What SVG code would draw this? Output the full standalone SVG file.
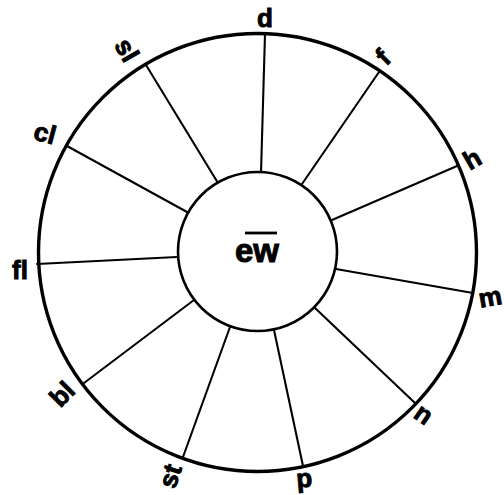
<svg xmlns="http://www.w3.org/2000/svg" width="504" height="495" viewBox="0 0 504 495">
<style>
.ring{fill:none;stroke:#000;stroke-width:3.4}
.hub{fill:#fff;stroke:#000;stroke-width:2.6}
.sp{stroke:#000;stroke-width:2.1;stroke-linecap:round}
.lb{font-family:"Liberation Sans",Arial,sans-serif;font-weight:bold;font-size:26px;fill:#000;stroke:#000;stroke-width:0.9;text-anchor:middle;dominant-baseline:central}
.ct{font-family:"Liberation Sans",Arial,sans-serif;font-weight:bold;font-size:33px;fill:#000;stroke:#000;stroke-width:1;text-anchor:middle}
</style>
<rect width="504" height="495" fill="#fff"/>
<g id="rim"><circle class="ring" cx="257.5" cy="252.5" r="219"/></g>
<g id="connectors">
<line class="sp" x1="265" y1="34" x2="261" y2="173"/>
<line class="sp" x1="379" y1="72" x2="302" y2="184"/>
<line class="sp" x1="457" y1="166" x2="332" y2="220"/>
<line class="sp" x1="473" y1="293" x2="336" y2="269"/>
<line class="sp" x1="415" y1="403" x2="315" y2="308"/>
<line class="sp" x1="303" y1="466" x2="274" y2="330"/>
<line class="sp" x1="183" y1="457" x2="230" y2="327"/>
<line class="sp" x1="84" y1="383" x2="194" y2="300"/>
<line class="sp" x1="37" y1="264" x2="177" y2="257"/>
<line class="sp" x1="67" y1="146" x2="187" y2="212"/>
<line class="sp" x1="146" y1="65" x2="218" y2="183"/>
</g>
<g id="hub">
<circle class="hub" cx="257.5" cy="251.5" r="79.5"/>
<line x1="245" y1="233" x2="277" y2="233" stroke="#000" stroke-width="2.8"/>
<text class="ct" x="257" y="262">ew</text>
</g>
<g id="d"><text class="lb" transform="translate(265,18)">d</text></g>
<g id="f"><text class="lb" transform="translate(383,57) rotate(-45)">f</text></g>
<g id="h"><text class="lb" transform="translate(472,159) rotate(-30)">h</text></g>
<g id="m"><text class="lb" transform="translate(490,297) rotate(-10)">m</text></g>
<g id="n"><text class="lb" transform="translate(424,414) rotate(35)">n</text></g>
<g id="p"><text class="lb" transform="translate(304,478) rotate(-5)">p</text></g>
<g id="st"><text class="lb" transform="translate(170,476) rotate(-72)">st</text></g>
<g id="bl"><text class="lb" transform="translate(62,394) rotate(-45)">bl</text></g>
<g id="fl"><text class="lb" transform="translate(20,270)">fl</text></g>
<g id="cl"><text class="lb" transform="translate(45,133) rotate(15)">cl</text></g>
<g id="sl"><text class="lb" transform="translate(127,50) rotate(60)">sl</text></g>
</svg>
